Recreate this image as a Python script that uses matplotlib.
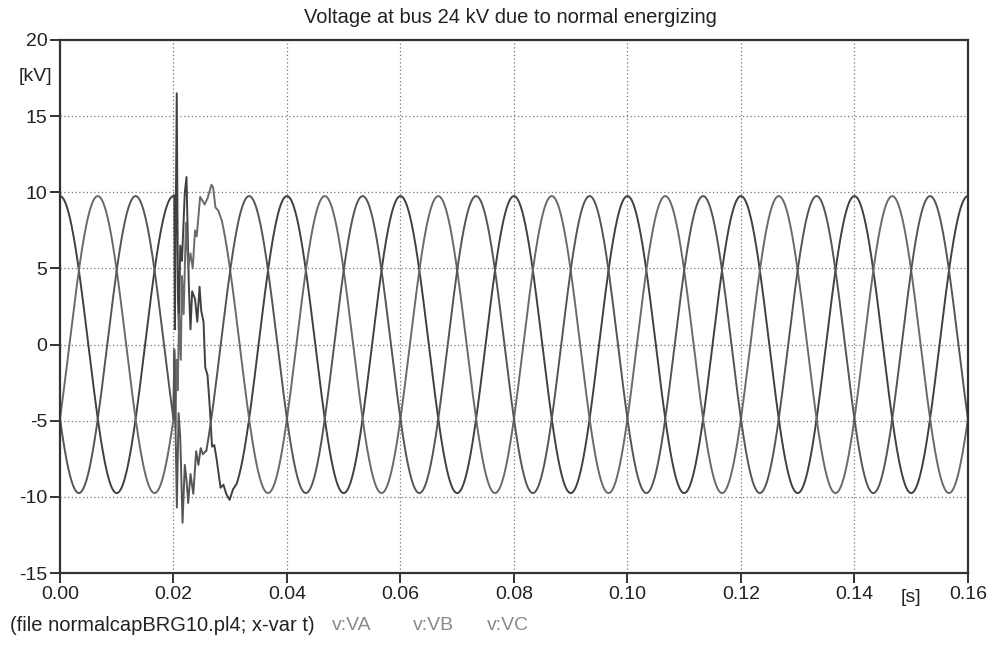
import numpy as np
import matplotlib
matplotlib.use("Agg")
import matplotlib.pyplot as plt

plt.rcParams['font.family'] = ['Liberation Sans', 'DejaVu Sans']

# ---- data -------------------------------------------------------------
title = "Voltage at bus 24 kV due to normal energizing"
x_ticks = [0.00, 0.02, 0.04, 0.06, 0.08, 0.10, 0.12, 0.14, 0.16]
x_tick_labels = ["0.00", "0.02", "0.04", "0.06", "0.08", "0.10", "0.12", "0.14", "0.16"]
y_ticks = [-15, -10, -5, 0, 5, 10, 15, 20]
y_tick_labels = ["-15", "-10", "-5", "0", "5", "10", "15", "20"]
series_names = ["v:VA", "v:VB", "v:VC"]

# steady-state three-phase supply (peak kV, Hz, phase angle in degrees)
peak_kv = 9.75
freq_hz = 50.0
phase_deg = [0.0, -120.0, 120.0]
t_stop = 0.16

# switching transient, (time s, voltage kV) per phase
va_t = [0.02000, 0.02015, 0.02025, 0.02040, 0.02058, 0.02080, 0.02095, 0.02120,
        0.02150, 0.02200, 0.02230, 0.02270, 0.02300, 0.02330, 0.02380, 0.02420,
        0.02460, 0.02490, 0.02530, 0.02560, 0.02600, 0.02640, 0.02680, 0.02720,
        0.02760, 0.02830, 0.02880, 0.02930, 0.02990, 0.03050, 0.03110]
va_v = [9.75, 9.8, 1.0, 8.0, 16.5, 3.0, 1.0, 6.5,
        5.5, 10.0, 11.0, 4.0, 1.0, 3.5, 3.0, 1.5,
        3.8, 2.2, 1.5, -1.5, -2.0, -4.1, -6.7, -6.6,
        -7.5, -9.4, -9.2, -9.8, -10.2, -9.5, -9.17]

vb_t = [0.02000, 0.02015, 0.02035, 0.02055, 0.02075, 0.02100, 0.02130, 0.02150,
        0.02180, 0.02220, 0.02260, 0.02300, 0.02340, 0.02380, 0.02410, 0.02470,
        0.02550, 0.02600, 0.02670, 0.02700, 0.02740, 0.02790, 0.02850]
vb_v = [-4.9, -0.3, -5.5, -1.0, -3.0, 2.0, -1.0, 4.5,
        2.0, 8.0, 5.0, 6.0, 5.0, 7.5, 7.1, 9.7,
        9.2, 9.6, 10.5, 10.3, 9.0, 8.8, 8.18]

vc_t = [0.02000, 0.02015, 0.02040, 0.02060, 0.02090, 0.02120, 0.02160, 0.02200,
        0.02230, 0.02260, 0.02300, 0.02350, 0.02400, 0.02440, 0.02480, 0.02520,
        0.02580]
vc_v = [-4.9, -0.5, -6.0, -10.7, -4.5, -6.1, -11.7, -7.9,
        -8.9, -10.4, -8.5, -9.8, -7.0, -7.9, -6.8, -7.2,
        -6.96]

transients = [(va_t, va_v), (vb_t, vb_v), (vc_t, vc_v)]
line_colors = ["#404040", "#6a6a6a", "#555555"]

# ---- figure -------------------------------------------------------------
fig = plt.figure(figsize=(9.96, 6.45), dpi=100)
ax = fig.add_axes([0.0602, 0.1116, 0.9116, 0.8264])

for (tt, vv), ph, col in zip(transients, phase_deg, line_colors):
    w = 2 * np.pi * freq_hz
    pre_t = np.arange(0.0, tt[0], 2e-5)
    post_t = np.arange(tt[-1], t_stop + 1e-5, 2e-5)
    pre_v = peak_kv * np.cos(w * pre_t + np.deg2rad(ph))
    post_v = peak_kv * np.cos(w * post_t + np.deg2rad(ph))
    t_all = np.concatenate([pre_t, np.array(tt), post_t])
    v_all = np.concatenate([pre_v, np.array(vv), post_v])
    ax.plot(t_all, v_all, color=col, lw=1.4, solid_joinstyle='round')

ax.set_xlim(0.0, 0.16)
ax.set_ylim(-15, 20)
ax.set_xticks(x_ticks)
ax.set_xticklabels(x_tick_labels)
ax.set_yticks(y_ticks)
ax.set_yticklabels(y_tick_labels)
ax.tick_params(direction='out', length=7, width=1.3, colors='#222222',
               labelsize=14, pad=2)

ax.grid(True, which='major', linestyle=(0, (1, 2)), color='#777777', linewidth=0.9)
for s in ax.spines.values():
    s.set_linewidth(1.6)
    s.set_color('#333333')

fig.text(0.512, 0.973, title, fontsize=14.5, color='#222222', ha='center', va='center')

# axis units
fig.text(0.036, 0.881, "[kV]", fontsize=14, color='#222222', ha='center', va='center')
fig.text(0.915, 0.074, "[s]", fontsize=14, color='#222222', ha='center', va='center')

# file / variable line
fig.text(0.010, 0.031, "(file normalcapBRG10.pl4; x-var t)", fontsize=14.5,
         color='#222222', ha='left', va='center')
for name, xpos in zip(series_names, [0.333, 0.415, 0.489]):
    fig.text(xpos, 0.031, name, fontsize=14, color='#8a8a8a', ha='left', va='center')

fig.savefig("out.png", dpi=100)
